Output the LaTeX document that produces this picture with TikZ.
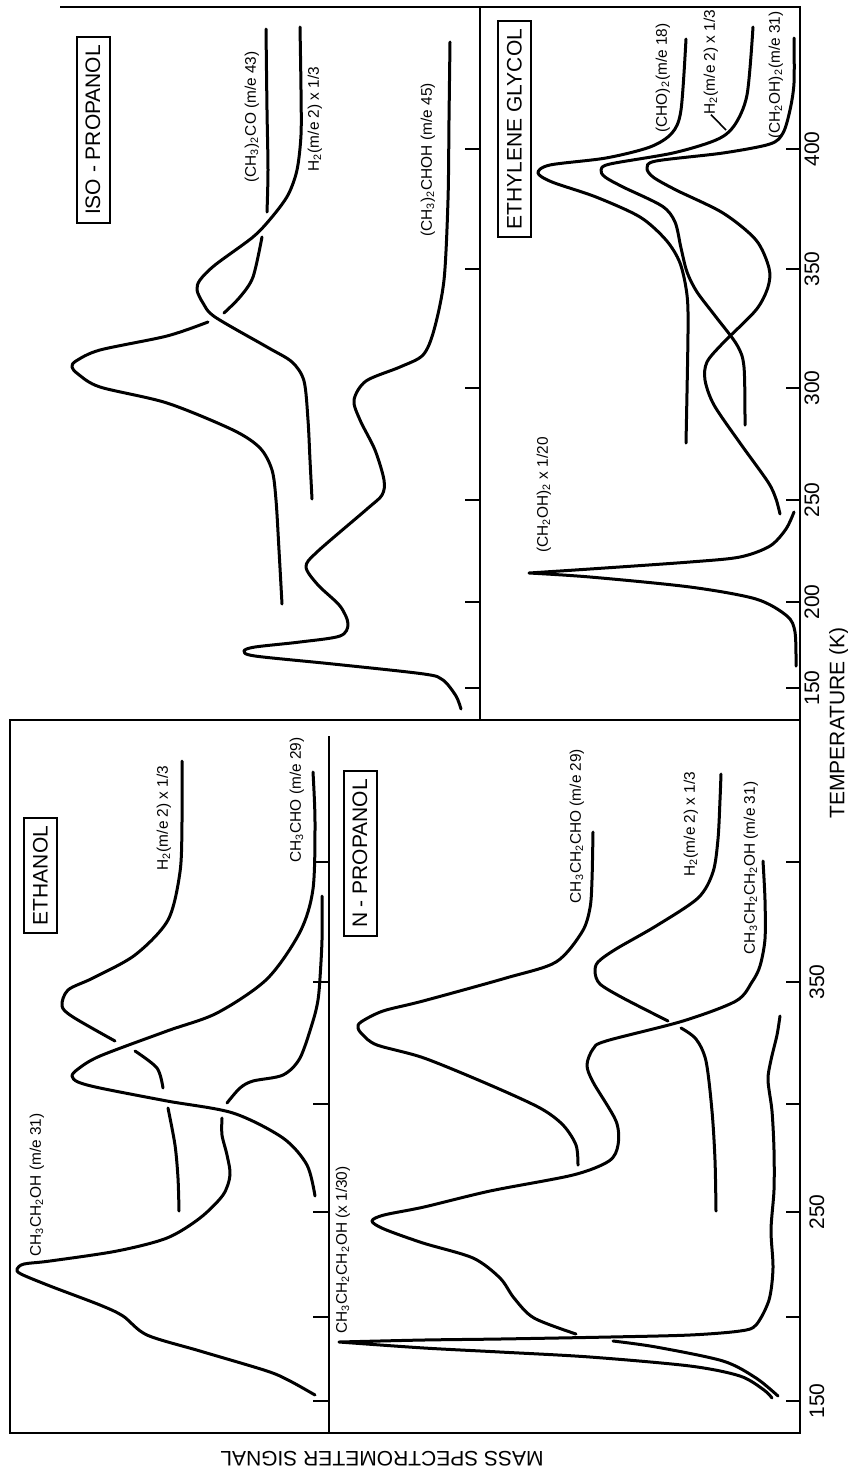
\documentclass[tikz,border=0pt]{standalone}
\usepackage{fontspec}
\setmainfont{Liberation Sans}
\tikzset{
  curve/.style    = {line width=1.5pt, line cap=round, line join=round},
  frame/.style    = {line width=1.1pt},
  tickmark/.style = {line width=1.1pt},
  panel/.style    = {draw, line width=1pt, rotate=90, inner xsep=4pt,
                     minimum height=16.5pt, font=\fontsize{10.5}{12}\selectfont},
  lbl/.style      = {rotate=90, inner sep=0pt, font=\fontsize{7.7}{8}\selectfont},
  ticklbl/.style  = {rotate=90, inner sep=0pt, font=\fontsize{10.5}{12}\selectfont},
  axlbl/.style    = {inner sep=0pt, font=\fontsize{10.5}{12}\selectfont}
}

\begin{document}
\begin{tikzpicture}[x=0.5pt,y=-0.5pt]
  \useasboundingbox (0,0) rectangle (847,1468);
  \draw[frame] (60,7) -- (800,7) -- (800,1433) -- (10,1433) -- (10,720) -- (800,720);
  \draw[frame] (480,7) -- (480,720);
  \draw[frame] (329,736) -- (329,1433);
  \foreach \yy in {149,269,388,500,602,688} {
    \draw[tickmark] (465,\yy) -- (480,\yy);
    \draw[tickmark] (786,\yy) -- (800,\yy);
  }
  \foreach \yy in {862,982,1104,1212,1317,1401} {
    \draw[tickmark] (313,\yy) -- (329,\yy);
    \draw[tickmark] (786,\yy) -- (800,\yy);
  }
  \foreach \yy/\val in {149/400,269/350,388/300,500/250,602/200,688/150}
    \node[ticklbl] (up\val) at (812,\yy) {\val};
  \foreach \yy/\val in {982/350,1212/250,1401/150}
    \node[ticklbl] (lo\val) at (817,\yy) {\val};

  \node[panel] (isoTitle) at (93,130)    {ISO - PROPANOL};
  \node[panel] (egTitle)  at (514.5,129) {ETHYLENE GLYCOL};
  \node[panel] (etTitle)  at (40.5,875.5) {ETHANOL};
  \node[panel] (npTitle)  at (360,853.5) {N - PROPANOL};

  \node[lbl] (isoCOlbl) at (252,117)  {(CH\textsubscript{3})\textsubscript{2}CO (m/e 43)};
  \node[lbl] (isoH2lbl) at (315,119)  {H\textsubscript{2}(m/e 2) x 1/3};
  \node[lbl] (isoOHlbl) at (428,160)  {(CH\textsubscript{3})\textsubscript{2}CHOH (m/e 45)};
  \node[lbl] (egX20lbl) at (544,495)  {(CH\textsubscript{2}OH)\textsubscript{2} x 1/20};
  \node[lbl] (egCHOlbl) at (663,78)   {(CHO)\textsubscript{2}(m/e 18)};
  \node[lbl] (egH2lbl)  at (711,62)   {H\textsubscript{2}(m/e 2) x 1/3};
  \node[lbl] (egOHlbl)  at (776,75)   {(CH\textsubscript{2}OH)\textsubscript{2}(m/e 31)};
  \node[lbl] (etOHlbl)  at (37,1185)  {CH\textsubscript{3}CH\textsubscript{2}OH (m/e 31)};
  \node[lbl] (etH2lbl)  at (164,818)  {H\textsubscript{2}(m/e 2) x 1/3};
  \node[lbl] (etCHOlbl) at (297,800)  {CH\textsubscript{3}CHO (m/e 29)};
  \node[lbl] (npCHOlbl) at (577,826)  {CH\textsubscript{3}CH\textsubscript{2}CHO (m/e 29)};
  \node[lbl] (npH2lbl)  at (691,824)  {H\textsubscript{2}(m/e 2) x 1/3};
  \node[lbl] (npOHlbl)  at (751,868)  {CH\textsubscript{3}CH\textsubscript{2}CH\textsubscript{2}OH (m/e 31)};
  \node[lbl] (npX30lbl) at (343,1250) {CH\textsubscript{3}CH\textsubscript{2}CH\textsubscript{2}OH (x 1/30)};
  \coordinate (egH2tip) at (726,130);
  \draw[line width=0.8pt] (egH2lbl.west) -- (egH2tip);

  \node[axlbl,rotate=90]  (tempLbl)   at (839,723)  {TEMPERATURE (K)};
  \node[axlbl,rotate=180] (signalLbl) at (382,1459) {MASS SPECTROMETER SIGNAL};

  \draw[curve] plot[smooth] coordinates {(266,29) (267,110) (268,170) (267,212)};
  \draw[curve] plot[smooth] coordinates {(262,237) (253,277) (240,297) (224,313)};
  \draw[curve] plot[smooth] coordinates {(208,322) (167,336) (100,350) (76,361) (72,367) (78,374)
    (100,387) (167,403) (233,430) (260,448) (272,470) (276,500) (279,550) (282,604)};
  \draw[curve] plot[smooth] coordinates {(300,27) (301,90) (301,135) (297,170) (288,195) (272,217)
    (253,237) (215,265) (200,280) (197,290) (203,303) (215,317) (267,347) (292,362) (304,381)
    (308,420) (310,460) (312,499)};
  \draw[curve] plot[smooth] coordinates {(450,42) (449,120) (448,200) (444,280) (434,330) (423,355)
    (400,367) (366,381) (354,400) (360,420) (375,450) (384,480) (382,495) (367,509) (317,552)
    (306,567) (318,585) (340,606) (348,624) (340,636) (300,642) (255,647) (244,651) (255,656)
    (333,664) (424,674) (443,680) (456,696) (461,709)};

  \draw[curve] plot[smooth] coordinates {(796,666) (795,632) (787,616) (756,599) (690,587) (590,577) (529,573)}
    -- plot[smooth] coordinates {(529,573) (590,569) (690,562) (740,557) (770,546) (786,529) (794,512)};
  \draw[curve] plot[smooth] coordinates {(780,514) (776,499) (768,482) (740,443) (714,405) (705,380)
    (707,362) (723,343) (756,310) (768,287) (769,268) (756,240) (723,213) (676,190) (653,177)
    (647,168) (656,161) (723,153) (770,144) (783,133) (790,110) (794,83) (794,38)};
  \draw[curve] plot[smooth] coordinates {(745,425) (744,367) (737,345) (716,317) (697,292) (687,272)
    (681,248) (675,222) (662,206) (623,187) (605,177) (601,170) (610,164) (673,153) (716,140)
    (734,126) (747,95) (753,27)};
  \draw[curve] plot[smooth] coordinates {(686,443) (688,333) (687,295) (680,263) (666,240) (640,217)
    (596,197) (552,182) (538,173) (550,165) (606,158) (650,147) (672,133) (681,110) (686,39)};

  \draw[curve] plot[smooth] coordinates {(315,1395) (290,1381) (267,1371) (200,1351) (147,1335)
    (123,1316) (100,1305) (50,1286) (21,1274) (17,1269) (24,1264) (50,1261) (117,1251) (167,1238)
    (200,1218) (223,1195) (230,1175) (227,1155) (222,1135) (222,1118)};
  \draw[curve] plot[smooth] coordinates {(227,1103) (240,1088) (253,1081) (283,1075) (300,1058)
    (313,1021) (318,1000) (320,978) (322,940) (322,896)};
  \draw[curve] plot[smooth] coordinates {(182,761) (182,822) (180,872) (168,920) (135,955) (93,978)
    (68,990) (62,1006) (73,1017) (115,1041)};
  \draw[curve] plot[smooth] coordinates {(135,1051) (157,1068) (163,1088)};
  \draw[curve] plot[smooth] coordinates {(168,1108) (175,1145) (178,1178) (179,1211)};
  \draw[curve] plot[smooth] coordinates {(315,1196) (307,1165) (283,1138) (233,1113) (167,1101)
    (100,1088) (78,1082) (72,1076) (78,1069) (100,1056) (167,1031) (217,1013) (267,979) (300,932)
    (313,889) (315,822) (313,772)};

  \draw[curve] plot[smooth] coordinates {(593,832) (592,880) (590,908) (582,932) (556,962) (506,978)
    (423,1001) (383,1011) (361,1022) (358,1028) (363,1035) (377,1045) (424,1058) (490,1085)
    (540,1108) (563,1125) (576,1145) (578,1165)};
  \draw[curve] plot[smooth] coordinates {(721,774) (720,800) (718,839) (713,872) (698,898) (656,926)
    (616,949) (598,962) (595,972) (600,984) (623,998) (668,1021)};
  \draw[curve] plot[smooth] coordinates {(681,1028) (696,1039) (706,1061) (712,1111) (715,1160) (716,1211)};
  \draw[curve] plot[smooth] coordinates {(763,861) (765,900) (765,939) (760,966) (752,982) (736,1001)
    (683,1021) (606,1041) (593,1049) (587,1065) (593,1082) (616,1121) (618,1145) (609,1161)
    (573,1175) (490,1191) (424,1207) (384,1215) (372,1221) (384,1229) (423,1243) (473,1258)
    (500,1278) (514,1298) (534,1318) (576,1334)};
  \draw[curve] plot[smooth] coordinates {(613,1341) (656,1347) (723,1361) (756,1378) (778,1396)};
  \draw[curve] plot[smooth] coordinates {(780,1016) (777,1035) (771,1060) (768,1080) (772,1111)
    (774,1150) (774,1190) (771,1230) (773,1268) (769,1300) (756,1325) (740,1331) (690,1335)
    (610,1337) (500,1339) (424,1340) (339,1342)}
    -- plot[smooth] coordinates {(339,1342) (424,1348) (500,1352) (590,1357) (690,1366) (740,1376)
    (764,1390) (772,1398)};
\end{tikzpicture}
\end{document}
